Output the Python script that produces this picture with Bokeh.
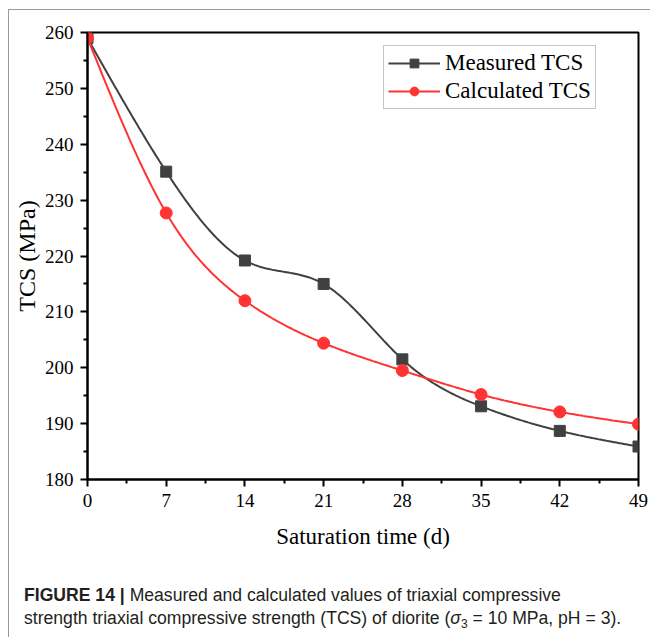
import numpy as np
from bokeh.plotting import figure
from bokeh.layouts import column
from bokeh.models import Range1d, FixedTicker, Legend, LegendItem, Div
from bokeh.embed import file_html
from bokeh.resources import INLINE

# Saturation time (days) and triaxial compressive strength (MPa)
days = [0, 7, 14, 21, 28, 35, 42, 49]
measured_tcs = [259.0, 235.1, 219.2, 215.0, 201.5, 193.1, 188.7, 185.9]
calculated_tcs = [259.0, 227.7, 212.0, 204.4, 199.5, 195.2, 192.1, 189.9]

x_ticks = [0, 7, 14, 21, 28, 35, 42, 49]
y_ticks = [180, 190, 200, 210, 220, 230, 240, 250, 260]

SERIF = "Liberation Serif"
SANS = "Liberation Sans"
GREY = "#404040"
RED = "#ff3333"
PANEL_LINE = "#9a9a9a"

# panel origin (after the thin grey panel border) and frame edges, canvas pixels
OX, OY = 9, 10
FL, FT, FR, FB = 87, 32, 638, 479
W = 650 - OX
H_PLOT = 560 - OY
H_CAP = 637 - 560


def natural_spline(xs, ys, n=300):
    """Smooth connecting curve (natural cubic spline) through the points."""
    x = np.asarray(xs, float)
    y = np.asarray(ys, float)
    k = len(x)
    h = np.diff(x)
    A = np.zeros((k, k))
    r = np.zeros(k)
    A[0, 0] = A[-1, -1] = 1.0
    for i in range(1, k - 1):
        A[i, i - 1] = h[i - 1]
        A[i, i] = 2 * (h[i - 1] + h[i])
        A[i, i + 1] = h[i]
        r[i] = 6 * ((y[i + 1] - y[i]) / h[i] - (y[i] - y[i - 1]) / h[i - 1])
    m = np.linalg.solve(A, r)
    xx = np.linspace(x[0], x[-1], n)
    idx = np.clip(np.searchsorted(x, xx) - 1, 0, k - 2)
    x0, x1 = x[idx], x[idx + 1]
    hh = x1 - x0
    a = (x1 - xx) / hh
    b = (xx - x0) / hh
    yy = (a * y[idx] + b * y[idx + 1]
          + ((a ** 3 - a) * m[idx] + (b ** 3 - b) * m[idx + 1]) * hh ** 2 / 6)
    return xx, yy


# ---- main chart -------------------------------------------------------------
p = figure(width=W, height=H_PLOT, output_backend="svg", toolbar_location=None,
           x_range=Range1d(0, 49), y_range=Range1d(180, 260),
           min_border_left=FL - OX, min_border_right=OX + W - FR,
           min_border_top=FT - OY, min_border_bottom=OY + H_PLOT - FB)
p.xgrid.visible = False
p.ygrid.visible = False
p.outline_line_color = "black"
p.outline_line_width = 2
p.background_fill_color = "white"
p.border_fill_color = "white"

mx, my = natural_spline(days, measured_tcs)
cx, cy = natural_spline(days, calculated_tcs)

m_line = p.line(mx, my, line_color=GREY, line_width=2)
m_pts = p.scatter(days, measured_tcs, marker="square", size=11,
                  fill_color=GREY, line_color=GREY)
c_line = p.line(cx, cy, line_color=RED, line_width=2)
c_pts = p.scatter(days, calculated_tcs, marker="circle", size=12,
                  fill_color=RED, line_color=RED)

for ax, ticks, minors in ((p.xaxis[0], x_ticks, [t + 3.5 for t in x_ticks[:-1]]),
                          (p.yaxis[0], y_ticks, [t + 5 for t in y_ticks[:-1]])):
    ax.ticker = FixedTicker(ticks=ticks, minor_ticks=minors)
    ax.axis_line_width = 2
    ax.major_tick_line_width = 2
    ax.minor_tick_line_width = 2
    ax.major_tick_in = 0
    ax.major_tick_out = 7
    ax.minor_tick_in = 0
    ax.minor_tick_out = 4
    ax.major_label_text_font = SERIF
    ax.major_label_text_font_size = "19px"
    ax.major_label_text_color = "black"
    ax.axis_label_text_font = SERIF
    ax.axis_label_text_font_style = "normal"
    ax.axis_label_text_color = "black"

p.xaxis.axis_label = "Saturation time (d)"
p.yaxis.axis_label = "TCS (MPa)"
p.xaxis.axis_label_text_font_size = "23px"
p.yaxis.axis_label_text_font_size = "24px"
p.xaxis.major_label_standoff = 7
p.xaxis.axis_label_standoff = 14
p.yaxis.major_label_standoff = 7
p.yaxis.axis_label_standoff = 2

legend = Legend(items=[LegendItem(label="Measured TCS", renderers=[m_line, m_pts]),
                       LegendItem(label="Calculated TCS", renderers=[c_line, c_pts])],
                location=(383 - FL, FB - 109))
legend.label_text_font = SERIF
legend.label_text_font_size = "23px"
legend.label_text_color = "black"
legend.glyph_width = 52
legend.glyph_height = 22
legend.label_height = 22
legend.spacing = 2
legend.padding = 4
legend.margin = 0
legend.label_standoff = 5
legend.border_line_color = "#8c8c8c"
legend.border_line_width = 1
legend.background_fill_alpha = 1.0
p.add_layout(legend)

# ---- figure caption -----------------------------------------------------------
caption_html = (
    f'<div style="font-family:\'{SANS}\';font-size:17.6px;line-height:23px;'
    f'color:#231f20;padding:24px 0 0 {24 - OX}px;white-space:nowrap;">'
    '<b>FIGURE 14 |</b> Measured and calculated values of triaxial compressive<br>'
    'strength triaxial compressive strength (TCS) of diorite '
    '(<i>&sigma;</i><span style="font-size:12px;position:relative;top:4px;">3</span>'
    ' = 10 MPa, pH = 3).</div>'
)
cap = Div(text=caption_html, width=W, height=H_CAP, margin=0)

root = column(p, cap, spacing=0, margin=(OY - 1, 0, 0, OX - 1),
              styles={"border-left": "1px solid " + PANEL_LINE,
                      "border-top": "1px solid " + PANEL_LINE})

open("out.html", "w").write(file_html(root, INLINE))
